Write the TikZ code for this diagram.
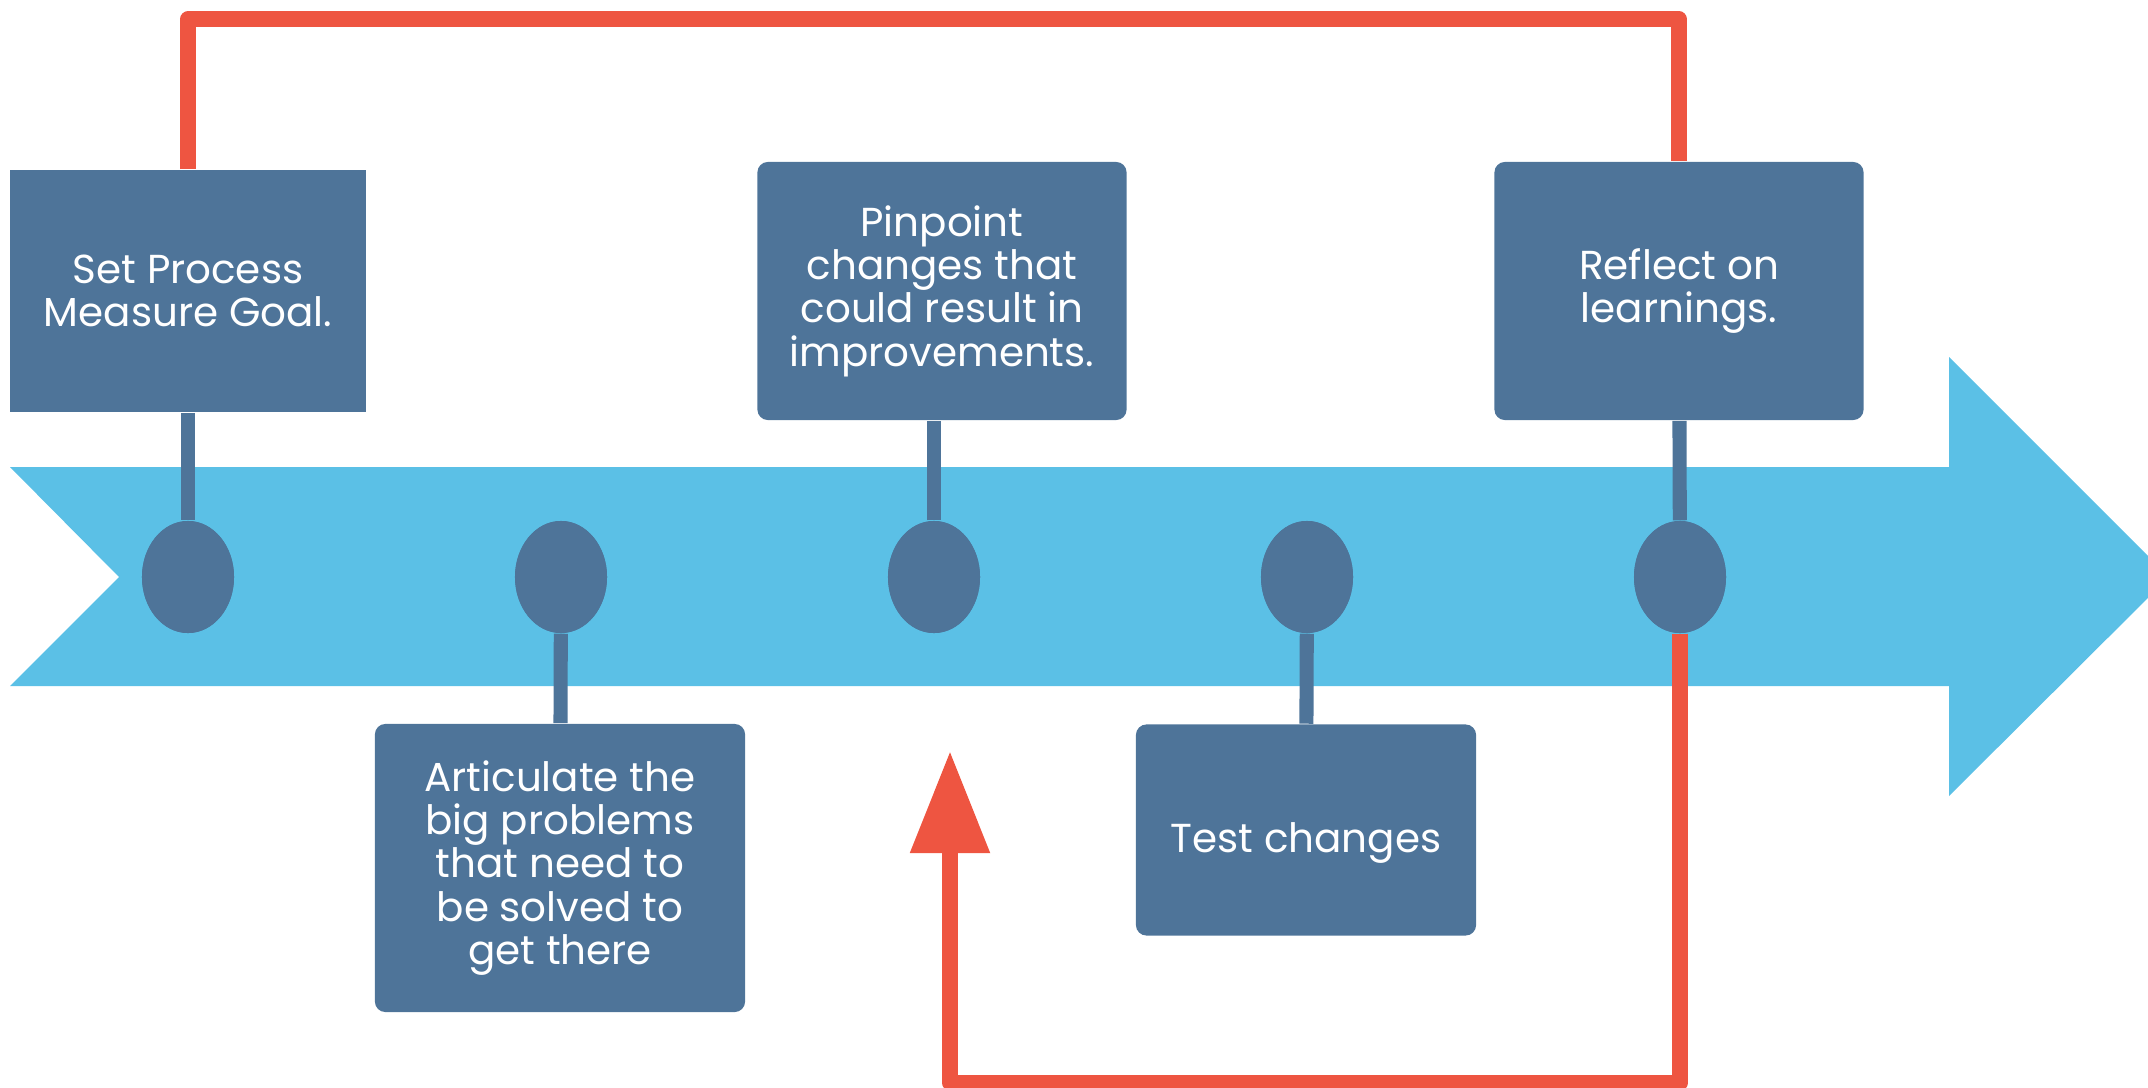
\documentclass[tikz,border=0pt]{standalone}
\usepackage{fontspec}
\setmainfont{Poppins}
\usetikzlibrary{arrows.meta,shapes.geometric}
\definecolor{boxblue}{RGB}{78,116,153}
\definecolor{bandblue}{RGB}{91,192,230}
\definecolor{loopred}{RGB}{238,85,65}
\tikzset{
  stepbox/.style={fill=boxblue, text=white, rounded corners=3pt, align=center, inner sep=0pt,
    font=\fontsize{11.5}{12.3}\selectfont},
  knob/.style={ellipse, fill=boxblue, minimum width=0.92cm, minimum height=1.12cm, inner sep=0pt},
  stemline/.style={boxblue, line width=4pt},
  redloop/.style={loopred, line width=4.3pt, line join=round},
}

\begin{document}
\begin{tikzpicture}[x=0.01cm,y=-0.01cm]
\clip (0,0) rectangle (2148,1088);
\fill[bandblue] (10,467) -- (1949,467) -- (1949,357) -- (2169,577) -- (1949,796) -- (1949,686) -- (10,686) -- (119,577) -- cycle;

\node[stepbox, rounded corners=0pt, minimum width=3.56cm, minimum height=2.42cm] at (188,291) (s1) {Set Process\\Measure Goal.};
\node[stepbox, minimum width=3.70cm, minimum height=2.88cm] at (560,868) (s2) {Articulate the\\big problems\\that need to\\be solved to\\get there};
\node[stepbox, minimum width=3.69cm, minimum height=2.58cm] at (942,291) (s3) {Pinpoint\\changes that\\could result in\\improvements.};
\node[stepbox, minimum width=3.40cm, minimum height=2.11cm, text height=16pt] at (1306,830) (s4) {Test changes};
\node[stepbox, minimum width=3.69cm, minimum height=2.58cm] at (1679,291) (s5) {Reflect on\\learnings.};

\foreach \i in {1,...,5}
  \node[knob] at ({188+373*(\i-1)},577) (k\i) {};

\coordinate (tip) at (950,751);
\draw[redloop] (s1.north) |- (s5.north |- 0,19) -- (s5.north);
\draw[redloop, -{Triangle[width=0.76cm, length=1.02cm]}] (k5.south) -- (k5.south |- 0,1083) -| (tip);

\draw[stemline] (s1) -- (k1);
\draw[stemline] (s2) -- (k2);
\draw[stemline] (k3) -- (k3 |- s3.south);
\draw[stemline] (s4) -- (k4);
\draw[stemline] (s5) -- (k5);
\foreach \i in {1,...,5}
  \node[knob] at (k\i) {};
\end{tikzpicture}
\end{document}
